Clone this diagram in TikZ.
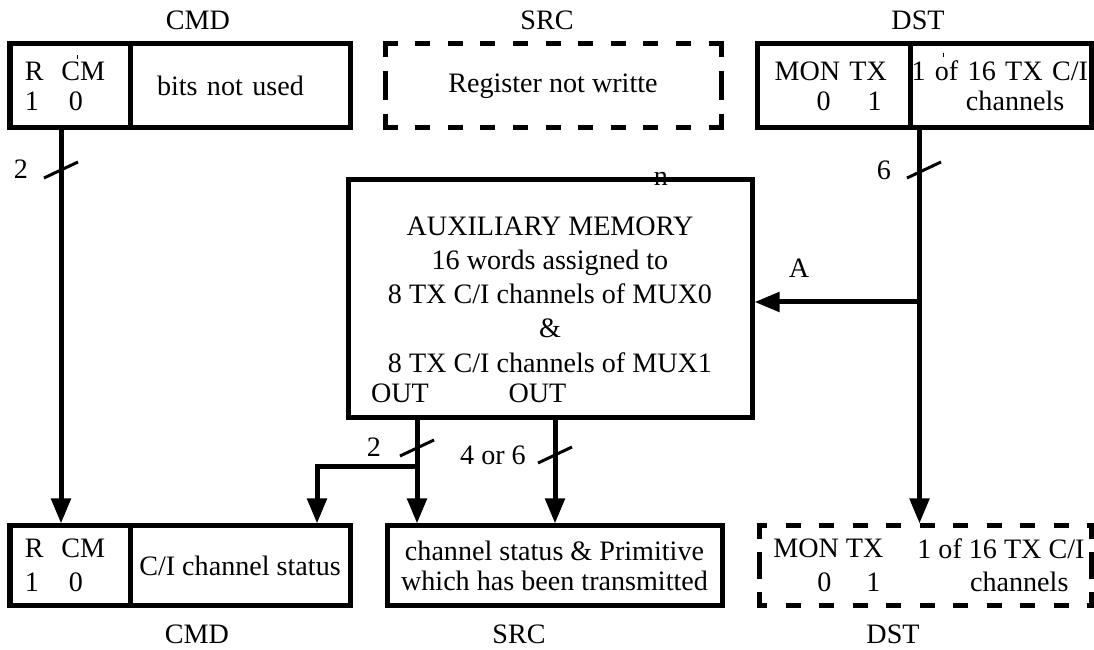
\documentclass[tikz,border=0pt]{standalone}
\usepackage{fontspec}
\setmainfont{Liberation Serif}
\usetikzlibrary{arrows.meta}

\begin{document}
\begin{tikzpicture}[
        reg/.style={rectangle, draw=black, line width=0.1cm, align=center, inner sep=0pt, font=\fontsize{16}{17}\selectfont},
        top/.style={reg, minimum height=1.68cm},
        bottom/.style={reg, minimum height=1.58cm, font=\fontsize{16}{19}\selectfont},
        unused/.style={draw=none, outer sep=0pt},
        side/.style={line width=0.1cm},
        lbl/.style={inner sep=0pt, font=\fontsize{16}{19}\selectfont},
        bus/.style={line width=0.1cm, -{Triangle[length=0.5cm, width=0.38cm]}},
        busmark/.style={line width=0.06cm}
    ]
        \useasboundingbox (0,0) rectangle (21.88,-13);

        % Top registers
        \node[lbl, anchor=base] (tcmd) at (3.96,-0.6) {CMD};
        \node[lbl, anchor=base] (tsrcl) at (10.94,-0.6) {SRC};
        \node[lbl, anchor=base] (tdst) at (18.36,-0.6) {DST};
        \node[top, minimum width=2.4cm, text width=1.8cm, align=left] (tcmdA) at (1.4,-1.72) {R\hspace{10pt}CM\\1\hspace{17pt}0};
        \node[top, minimum width=4.4cm, text width=3.32cm, align=left] (tcmdB) at (4.8,-1.72) {bits not used};
        \node[top, unused, minimum width=6.72cm] (tsrc) at (11.06,-1.72) {Register not writte};
        \node[top, minimum width=3.06cm, text width=2.36cm, align=left] (tdstA) at (16.67,-1.72) {MON TX\\\hspace{24pt}0\hspace{21pt}1};
        \node[top, minimum width=3.62cm, text width=3.56cm, align=left] (tdstB) at (20.01,-1.72) {1 of 16 TX C/I\\\hspace{31pt}channels};
        \draw[line width=0.02cm] (1.54,-1.1) -- (1.54,-1.18);
        \draw[line width=0.02cm] (18.86,-1.06) -- (18.86,-1.14);

        % Auxiliary memory
        \node[reg, minimum width=8.08cm, minimum height=4.76cm] (aux) at (11.0,-5.98) {};
        \node[lbl, align=center, font=\fontsize{16}{19.5}\selectfont] (auxtext) at (11.0,-5.89) {AUXILIARY MEMORY\\16 words assigned to\\8 TX C/I channels of MUX0\\\&\\8 TX C/I channels of MUX1};
        \node[lbl, anchor=base] (out0) at (8.0,-8.06) {OUT};
        \node[lbl, anchor=base] (out1) at (10.75,-8.06) {OUT};
        \node[lbl] (nmark) at (13.22,-3.58) {n};

        % Bottom registers
        \node[bottom, minimum width=2.4cm, text width=1.8cm, align=left] (bcmdA) at (1.4,-11.31) {R\hspace{10pt}CM\\1\hspace{17pt}0};
        \node[bottom, minimum width=4.4cm] (bcmdB) at (4.8,-11.31) {C/I channel status};
        \node[bottom, minimum width=6.7cm, font=\fontsize{16}{17}\selectfont] (bsrc) at (11.09,-11.31) {channel status \& Primitive\\which has been transmitted};
        \node[bottom, unused, minimum width=6.64cm] (bdst) at (18.5,-11.31) {};
        \node[lbl, anchor=west, align=left] (bdstA) at (15.46,-11.31) {MON TX\\\hspace{25pt}0\hspace{20pt}1};
        \node[lbl, anchor=west, align=left] (bdstB) at (18.34,-11.31) {1 of 16 TX C/I\\\hspace{30pt}channels};
        \node[lbl, anchor=base] (bcmd) at (3.94,-12.86) {CMD};
        \node[lbl, anchor=base] (bsrcl) at (10.38,-12.86) {SRC};
        \node[lbl, anchor=base] (bdstl) at (17.86,-12.86) {DST};

        % Dashed borders
        \draw[side, dash pattern=on 0.3cm off 0.352cm] ([xshift=-0.05cm]tsrc.north west) -- ([xshift=0.05cm]tsrc.north east) ([xshift=-0.05cm]tsrc.south west) -- ([xshift=0.05cm]tsrc.south east);
        \draw[side, dash pattern=on 0.26cm off 0.28cm on 0.58cm off 0.28cm] (tsrc.north west) -- (tsrc.south west) (tsrc.north east) -- (tsrc.south east);
        \draw[side, dash pattern=on 0.3cm off 0.37cm, dash phase=0.09cm] ([xshift=-0.05cm]bdst.north west) -- ([xshift=0.05cm]bdst.north east) ([xshift=-0.05cm]bdst.south west) -- ([xshift=0.05cm]bdst.south east);
        \draw[side, dash pattern=on 0.26cm off 0.27cm on 0.52cm off 0.27cm] (bdst.north west) -- (bdst.south west) (bdst.north east) -- (bdst.south east);

        % Arrows
        \coordinate (dstx) at ([xshift=0.24cm]tdstB.south west);
        \coordinate (ja) at (18.44,-6.04);
        \coordinate (o1) at ([xshift=-2.66cm]aux.south);
        \coordinate (o2) at ([xshift=0.1cm]aux.south);
        \coordinate (br) at (8.34,-9.34);
        \draw[bus] ([xshift=-0.18cm]tcmdA.south) -- ([xshift=-0.18cm]bcmdA.north);
        \draw[bus] (dstx) -- ([yshift=0.05cm]dstx |- bdst.north);
        \draw[bus] (ja) -- (ja -| aux.east);
        \draw[bus] (o1) -- (o1 |- bsrc.north);
        \draw[bus] (o2) -- (o2 |- bsrc.north);
        \draw[bus] (br) -| ([xshift=1.54cm]bcmdB.north);

        % Bus widths
        \draw[busmark] (0.88,-3.56) -- (1.56,-3.24);
        \draw[busmark] (18.14,-3.56) -- (18.82,-3.24);
        \draw[busmark] (8.0,-9.12) -- (8.68,-8.8);
        \draw[busmark] (10.76,-9.26) -- (11.44,-8.94);
        \node[lbl] (w2a) at (0.42,-3.38) {2};
        \node[lbl] (w6) at (17.68,-3.4) {6};
        \node[lbl] (w2b) at (7.48,-8.94) {2};
        \node[lbl] (w46) at (9.86,-9.1) {4 or 6};
        \node[lbl, anchor=base] (amark) at (15.98,-5.56) {A};
    \end{tikzpicture}
\end{document}
